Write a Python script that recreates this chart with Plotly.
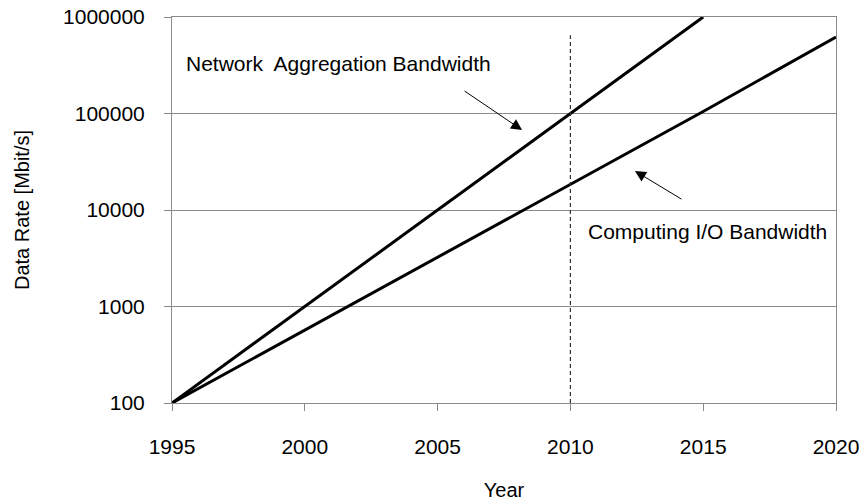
import plotly.graph_objects as go

# ---- data ----
network_years = [1995, 2000, 2005, 2010, 2015]
network_rate = [100, 1000, 10000, 100000, 1000000]

computing_years = [1995, 2000, 2005, 2010, 2015, 2020]
computing_rate = [100, 570, 3200, 18500, 105000, 620000]

ref_year = 2010

y_tickvals = [100, 1000, 10000, 100000, 1000000]
y_ticktext = ["100", "1000", "10000", "100000", "1000000"]
x_tickvals = [1995, 2000, 2005, 2010, 2015, 2020]

FONT = "Liberation Sans, Arial, Helvetica, sans-serif"
GRID = "#8a8a8a"

fig = go.Figure()
fig.add_trace(go.Scatter(x=network_years, y=network_rate, mode="lines",
                         line=dict(color="black", width=3), name="Network Aggregation Bandwidth",
                         showlegend=False))
fig.add_trace(go.Scatter(x=computing_years, y=computing_rate, mode="lines",
                         line=dict(color="black", width=3), name="Computing I/O Bandwidth",
                         showlegend=False))

fig.add_shape(type="line", xref="x", yref="y domain", x0=ref_year, x1=ref_year,
              y0=0, y1=0.953, line=dict(color="#333333", width=1.2, dash="4px,3px"))

fig.add_annotation(x=2008.18, y=4.829, xref="x", yref="y", ax=-59, ay=-40,
                   showarrow=True, arrowhead=2, arrowsize=2.2, arrowwidth=1,
                   arrowcolor="black", text="")
fig.add_annotation(x=2012.43, y=4.404, xref="x", yref="y", ax=48, ay=29,
                   showarrow=True, arrowhead=2, arrowsize=2.2, arrowwidth=1,
                   arrowcolor="black", text="")

fig.add_annotation(x=1995.45, y=5.523, xref="x", yref="y", xanchor="left", yanchor="middle",
                   text="Network\u00a0 Aggregation Bandwidth", showarrow=False,
                   font=dict(family=FONT, size=21, color="black"))
fig.add_annotation(x=2010.58, y=3.782, xref="x", yref="y", xanchor="left", yanchor="middle",
                   text="Computing I/O Bandwidth", showarrow=False,
                   font=dict(family=FONT, size=21, color="black"))

fig.update_layout(
    template="none",
    width=864, height=501,
    margin=dict(l=172, r=28, t=17, b=98, autoexpand=False),
    paper_bgcolor="white", plot_bgcolor="white",
    font=dict(family=FONT, size=21, color="black"),
    showlegend=False,
)
fig.update_xaxes(
    automargin=False,
    range=[1995, 2020], tickvals=x_tickvals, showgrid=False, zeroline=False,
    showline=True, linecolor=GRID, linewidth=1, mirror=True,
    ticks="outside", ticklen=7, tickcolor=GRID, tickwidth=1,
    ticklabelstandoff=18,
    tickfont=dict(family=FONT, size=21, color="black"),
    title=dict(text="Year", font=dict(family=FONT, size=20, color="black"), standoff=30),
)
fig.update_yaxes(
    automargin=False,
    type="log", range=[2, 6], tickvals=y_tickvals, ticktext=y_ticktext,
    showgrid=True, gridcolor=GRID, gridwidth=1, zeroline=False,
    showline=True, linecolor=GRID, linewidth=1, mirror=True,
    ticks="outside", ticklen=7, tickcolor=GRID, tickwidth=1,
    ticklabelstandoff=15,
    tickfont=dict(family=FONT, size=21, color="black"),
    title=dict(text="Data Rate [Mbit/s]", font=dict(family=FONT, size=20, color="black"), standoff=28),
)

fig.write_html("out.html", config={"displayModeBar": False},
               post_script="document.body.style.margin='0px';")
